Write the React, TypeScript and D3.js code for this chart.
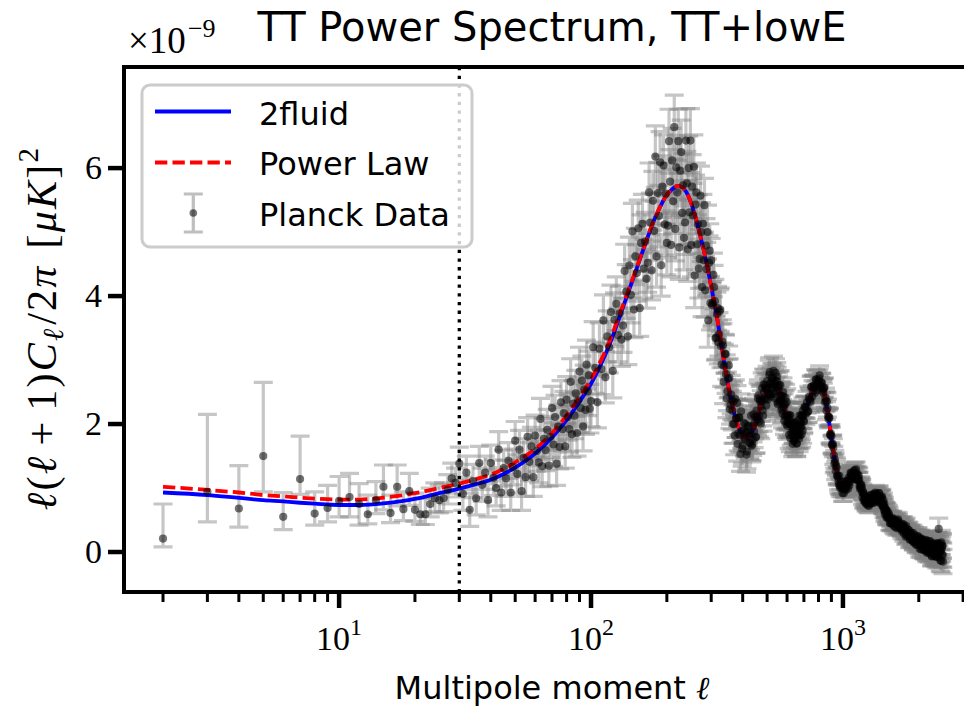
import React from "react";
import * as d3 from "d3";

// ---------------- data (units of 1e-9) ----------------
const LOW_ELL = [2, 3, 4, 5, 6, 7, 8, 9, 10, 11, 12, 13, 14, 15, 16, 17, 18, 19, 20, 21, 22, 23, 24, 25, 26, 27, 28, 29];
const LOW_D = [0.21, 0.94, 0.68, 1.5, 0.55, 1.14, 0.6, 0.69, 0.8, 0.86, 0.75, 0.59, 0.81, 1.02, 0.61, 1.02, 0.67, 0.95, 0.66, 0.59, 0.59, 0.75, 0.84, 0.81, 0.84, 0.97, 1.15, 1.08];
const LOW_ERR_PLUS = [0.54, 1.21, 0.67, 1.15, 0.38, 0.67, 0.34, 0.35, 0.38, 0.37, 0.32, 0.3, 0.29, 0.34, 0.28, 0.34, 0.27, 0.28, 0.26, 0.25, 0.25, 0.25, 0.24, 0.24, 0.24, 0.24, 0.24, 0.23];
const LOW_ERR_MINUS = [0.13, 0.47, 0.29, 0.56, 0.2, 0.24, 0.18, 0.22, 0.25, 0.31, 0.33, 0.15, 0.21, 0.36, 0.15, 0.3, 0.18, 0.22, 0.18, 0.16, 0.16, 0.2, 0.21, 0.2, 0.21, 0.22, 0.23, 0.22];

const HIGH_ELL = [
  30, 31, 32, 33, 34, 35, 36, 37, 38, 39, 40, 41, 42, 43, 44, 45, 46, 47, 48, 49,
  50, 51, 52, 53, 54, 55, 56, 57, 58, 59, 60, 61, 62, 63, 64, 65, 66, 67, 68, 69,
  70, 71, 72, 73, 74, 75, 76, 77, 78, 79, 80, 81, 82, 83, 84, 85, 86, 87, 88, 89,
  90, 91, 92, 93, 94, 95, 96, 97, 98, 99,
  100, 102, 104, 106, 108, 110, 112, 114, 116, 118, 120, 122, 124, 126, 128, 130, 132, 134, 136, 138,
  140, 142, 144, 146, 148, 150, 152, 154, 156, 158, 160, 162, 164, 166, 168, 170, 172, 174, 176, 178,
  180, 182, 184, 186, 188, 190, 192, 194, 196, 198, 200, 202, 204, 206, 208, 210, 212, 214, 216, 218,
  220, 222, 224, 226, 228, 230, 232, 234, 236, 238, 240, 242, 244, 246, 248, 250, 252, 254, 256, 258,
  260, 262, 264, 266, 268, 270, 272, 274, 276, 278, 280, 282, 284, 286, 288, 290, 292, 294, 296, 298,
  300, 304, 308, 312, 316, 320, 324, 328, 332, 336, 340, 344, 348, 352, 356, 360, 364, 368, 372, 376,
  380, 384, 388, 392, 396, 400, 404, 408, 412, 416, 420, 424, 428, 432, 436, 440, 444, 448, 452, 456,
  460, 464, 468, 472, 476, 480, 484, 488, 492, 496, 500, 504, 508, 512, 516, 520, 524, 528, 532, 536,
  540, 544, 548, 552, 556, 560, 564, 568, 572, 576, 580, 584, 588, 592, 596, 600, 604, 608, 612, 616,
  620, 624, 628, 632, 636, 640, 644, 648, 652, 656, 660, 664, 668, 672, 676, 680, 684, 688, 692, 696,
  700, 708, 716, 724, 732, 740, 748, 756, 764, 772, 780, 788, 796, 804, 812, 820, 828, 836, 844, 852,
  860, 868, 876, 884, 892, 900, 908, 916, 924, 932, 940, 948, 956, 964, 972, 980, 988, 996, 1004, 1012,
  1020, 1028, 1036, 1044, 1052, 1060, 1068, 1076, 1084, 1092, 1100, 1108, 1116, 1124, 1132, 1140, 1148, 1156, 1164, 1172,
  1180, 1188, 1196, 1204, 1212, 1220, 1228, 1236, 1244, 1252, 1260, 1268, 1276, 1284, 1292, 1300, 1308, 1316, 1324, 1332,
  1340, 1348, 1356, 1364, 1372, 1380, 1388, 1396, 1404, 1412, 1420, 1428, 1436, 1444, 1452, 1460, 1468, 1476, 1484, 1492,
  1500, 1512, 1524, 1536, 1548, 1560, 1572, 1584, 1596, 1608, 1620, 1632, 1644, 1656, 1668, 1680, 1692, 1704, 1716, 1728,
  1740, 1752, 1764, 1776, 1788, 1800, 1812, 1824, 1836, 1848, 1860, 1872, 1884, 1896, 1908, 1920, 1932, 1944, 1956, 1968,
  1980, 1992, 2004, 2016, 2028, 2040, 2052, 2064, 2076, 2088, 2100, 2112, 2124, 2136, 2148, 2160, 2172, 2184, 2196, 2208,
  2220, 2232, 2244, 2256, 2268, 2280, 2292, 2304, 2316, 2328, 2340, 2352, 2364, 2376, 2388, 2400, 2412, 2424, 2436, 2448,
  2460, 2472, 2484, 2496,
];
const HIGH_D = [
  1.38, 0.91, 1.24, 0.66, 1.11, 0.84, 1.39, 1.05, 1.24, 0.81, 1.39, 1.16, 1.0, 1.6, 0.93, 1.31, 1.15, 1.43, 0.93, 1.33,
  1.74, 1.22, 1.6, 0.95, 1.47, 1.17, 1.8, 1.41, 1.65, 1.17, 1.82, 1.58, 1.4, 2.08, 1.34, 1.77, 1.59, 1.91, 1.35, 1.8,
  2.25, 1.68, 2.11, 1.38, 1.96, 1.64, 2.34, 1.92, 2.17, 1.65, 2.38, 2.11, 1.92, 2.66, 1.84, 2.32, 2.13, 2.48, 1.86, 2.37,
  2.82, 2.25, 2.68, 1.96, 2.54, 2.22, 2.93, 2.51, 2.76, 2.24,
  2.36, 3.2, 2.88, 2.34, 3.18, 2.86, 3.62, 2.73, 3.37, 3.2, 3.75, 2.83, 3.63, 3.88, 3.39, 3.73, 3.32, 3.54, 4.39, 4.07,
  3.37, 4.48, 4.02, 5.01, 3.79, 4.62, 4.36, 5.06, 3.81, 4.83, 5.13, 4.43, 4.85, 4.27, 4.52, 5.62, 5.15, 4.4, 5.49, 5.02,
  6.18, 4.62, 5.61, 5.25, 6.09, 4.48, 5.71, 6.04, 5.12, 5.6, 4.83, 5.1, 6.42, 5.79, 4.8, 6.12, 5.48, 6.64, 5.05, 6.01,
  5.62, 6.42, 4.76, 5.96, 6.25, 5.3, 5.73, 4.91, 5.15, 6.43, 5.76, 4.73, 6.0, 5.31, 6.43, 4.8, 5.71, 5.26, 6.02, 4.32,
  5.43, 5.62, 4.81, 5.12, 4.43, 4.58, 5.57, 5.0, 4.14, 5.13, 4.56, 5.42, 4.09, 4.79, 4.42, 5.0, 3.62, 4.52, 4.71, 3.89,
  4.56, 3.89, 4.14, 3.34, 3.72, 3.28, 3.76, 3.22, 3.29, 2.66, 3.1, 2.78, 2.51, 2.92, 2.23, 2.46, 2.21, 2.35, 1.82, 2.09,
  2.33, 1.85, 2.1, 1.53, 1.89, 1.66, 2.02, 1.76, 1.87, 1.57, 1.97, 1.81, 1.7, 2.13, 1.68, 1.97, 1.88, 2.11, 1.8, 2.11,
  2.4, 2.12, 2.38, 2.01, 2.36, 2.21, 2.62, 2.4, 2.56, 2.29, 2.67, 2.56, 2.48, 2.81, 2.46, 2.66, 2.56, 2.71, 2.41, 2.62,
  2.8, 2.51, 2.67, 2.31, 2.52, 2.35, 2.61, 2.38, 2.44, 2.16, 2.43, 2.26, 2.12, 2.41, 2.0, 2.15, 2.03, 2.12, 1.83, 1.99,
  2.13, 1.87, 2.01, 1.69, 1.9, 1.75, 2.02, 1.83, 1.92, 1.7, 1.98, 1.88, 1.82, 2.13, 1.82, 2.02, 1.96, 2.13, 1.9, 2.13,
  2.04, 2.27, 2.26, 2.19, 2.42, 2.38, 2.58, 2.43, 2.59, 2.57, 2.7, 2.53, 2.68, 2.71, 2.61, 2.65, 2.52, 2.49, 2.57, 2.41,
  2.21, 2.25, 2.08, 2.1, 1.82, 1.81, 1.67, 1.63, 1.38, 1.4, 1.35, 1.19, 1.17, 1.05, 1.03, 1.11, 1.03, 0.92, 1.04, 0.98,
  1.1, 0.97, 1.08, 1.06, 1.16, 1.04, 1.17, 1.23, 1.16, 1.21, 1.15, 1.18, 1.28, 1.22, 1.13, 1.22, 1.13, 1.2, 1.03, 1.06,
  0.99, 1.02, 0.85, 0.92, 0.91, 0.81, 0.82, 0.75, 0.76, 0.85, 0.8, 0.72, 0.84, 0.78, 0.89, 0.77, 0.85, 0.83, 0.91, 0.77,
  0.88, 0.9, 0.84, 0.87, 0.81, 0.83, 0.92, 0.86, 0.77, 0.86, 0.79, 0.87, 0.72, 0.76, 0.71, 0.75, 0.59, 0.66, 0.66, 0.57,
  0.64, 0.54, 0.58, 0.45, 0.51, 0.44, 0.52, 0.45, 0.47, 0.39, 0.49, 0.45, 0.41, 0.51, 0.38, 0.43, 0.39, 0.43, 0.32, 0.37,
  0.43, 0.33, 0.38, 0.24, 0.32, 0.25, 0.35, 0.27, 0.29, 0.2, 0.3, 0.24, 0.19, 0.3, 0.15, 0.23, 0.18, 0.22, 0.11, 0.18,
  0.24, 0.14, 0.21, 0.05, 0.15, 0.08, 0.21, 0.1, 0.15, 0.03, 0.16, 0.1, 0.04, 0.19, 0.01, 0.1, 0.04, 0.11, -0.02, 0.07,
  0.17, 0.01, 0.11, -0.07, 0.05, -0.03, 0.13, 0.01, 0.07, -0.07, 0.1, 0.02, -0.03, 0.14, -0.06, 0.36, -0.02, 0.08, -0.13, 0.02,
  0.15, -0.04, 0.09, -0.15,
];
const HIGH_ERR = [
  0.26, 0.26, 0.26, 0.26, 0.26, 0.26, 0.26, 0.26, 0.26, 0.26, 0.28, 0.28, 0.28, 0.28, 0.28, 0.28, 0.28, 0.28, 0.28, 0.28,
  0.3, 0.3, 0.3, 0.3, 0.3, 0.3, 0.3, 0.3, 0.3, 0.3, 0.32, 0.32, 0.32, 0.32, 0.32, 0.32, 0.32, 0.32, 0.32, 0.32,
  0.34, 0.34, 0.34, 0.34, 0.34, 0.34, 0.34, 0.34, 0.34, 0.34, 0.36, 0.36, 0.36, 0.36, 0.36, 0.36, 0.36, 0.36, 0.36, 0.36,
  0.38, 0.38, 0.38, 0.38, 0.38, 0.38, 0.38, 0.38, 0.38, 0.38,
  0.4, 0.4, 0.4, 0.4, 0.4, 0.4, 0.4, 0.4, 0.4, 0.4, 0.42, 0.42, 0.42, 0.42, 0.42, 0.42, 0.42, 0.42, 0.42, 0.42,
  0.44, 0.44, 0.44, 0.44, 0.44, 0.44, 0.44, 0.44, 0.44, 0.44, 0.46, 0.46, 0.46, 0.46, 0.46, 0.46, 0.46, 0.46, 0.46, 0.46,
  0.48, 0.48, 0.48, 0.48, 0.48, 0.48, 0.48, 0.48, 0.48, 0.48, 0.5, 0.5, 0.5, 0.5, 0.5, 0.5, 0.5, 0.5, 0.5, 0.5,
  0.5, 0.5, 0.5, 0.5, 0.5, 0.5, 0.5, 0.5, 0.5, 0.5, 0.5, 0.5, 0.5, 0.5, 0.5, 0.5, 0.5, 0.5, 0.5, 0.5,
  0.46, 0.46, 0.46, 0.46, 0.46, 0.46, 0.46, 0.46, 0.46, 0.46, 0.42, 0.42, 0.42, 0.42, 0.42, 0.42, 0.42, 0.42, 0.42, 0.42,
  0.34, 0.34, 0.34, 0.34, 0.34, 0.34, 0.34, 0.34, 0.34, 0.34, 0.3, 0.3, 0.3, 0.3, 0.3, 0.3, 0.3, 0.3, 0.3, 0.3,
  0.27, 0.27, 0.27, 0.27, 0.27, 0.27, 0.27, 0.27, 0.27, 0.27, 0.25, 0.25, 0.25, 0.25, 0.25, 0.25, 0.25, 0.25, 0.25, 0.25,
  0.24, 0.24, 0.24, 0.24, 0.24, 0.24, 0.24, 0.24, 0.24, 0.24, 0.23, 0.23, 0.23, 0.23, 0.23, 0.23, 0.23, 0.23, 0.23, 0.23,
  0.22, 0.22, 0.22, 0.22, 0.22, 0.22, 0.22, 0.22, 0.22, 0.22, 0.21, 0.21, 0.21, 0.21, 0.21, 0.21, 0.21, 0.21, 0.21, 0.21,
  0.2, 0.2, 0.2, 0.2, 0.2, 0.2, 0.2, 0.2, 0.2, 0.2, 0.2, 0.2, 0.2, 0.2, 0.2, 0.2, 0.2, 0.2, 0.2, 0.2,
  0.17, 0.17, 0.17, 0.17, 0.17, 0.17, 0.17, 0.17, 0.17, 0.17, 0.15, 0.15, 0.15, 0.15, 0.15, 0.15, 0.15, 0.15, 0.15, 0.15,
  0.14, 0.14, 0.14, 0.14, 0.14, 0.14, 0.14, 0.14, 0.14, 0.14, 0.13, 0.13, 0.13, 0.13, 0.13, 0.13, 0.13, 0.13, 0.13, 0.13,
  0.12, 0.12, 0.12, 0.12, 0.12, 0.12, 0.12, 0.12, 0.12, 0.12, 0.12, 0.12, 0.12, 0.12, 0.12, 0.12, 0.12, 0.12, 0.12, 0.12,
  0.11, 0.11, 0.11, 0.11, 0.11, 0.11, 0.11, 0.11, 0.11, 0.11, 0.11, 0.11, 0.11, 0.11, 0.11, 0.11, 0.11, 0.11, 0.11, 0.11,
  0.11, 0.11, 0.11, 0.11, 0.11, 0.11, 0.11, 0.11, 0.11, 0.11, 0.11, 0.11, 0.11, 0.11, 0.11, 0.11, 0.11, 0.11, 0.11, 0.11,
  0.11, 0.11, 0.11, 0.11, 0.11, 0.11, 0.11, 0.11, 0.11, 0.11, 0.11, 0.11, 0.11, 0.11, 0.11, 0.11, 0.11, 0.11, 0.11, 0.11,
  0.12, 0.12, 0.12, 0.12, 0.12, 0.12, 0.12, 0.12, 0.12, 0.12, 0.12, 0.12, 0.12, 0.12, 0.12, 0.12, 0.12, 0.12, 0.12, 0.12,
  0.13, 0.13, 0.13, 0.13, 0.13, 0.13, 0.13, 0.13, 0.13, 0.13, 0.14, 0.14, 0.14, 0.14, 0.14, 0.14, 0.14, 0.14, 0.14, 0.14,
  0.15, 0.15, 0.15, 0.15, 0.15, 0.15, 0.15, 0.15, 0.15, 0.15, 0.17, 0.17, 0.17, 0.17, 0.17, 0.17, 0.17, 0.17, 0.17, 0.17,
  0.19, 0.19, 0.19, 0.19,
];

// second (interleaved) set of multipoles above l = 300
const HIGH2_ELL = [
  302, 306, 310, 314, 318, 322, 326, 330, 334, 338, 342, 346, 350, 354, 358, 362, 366, 370, 374, 378,
  382, 386, 390, 394, 398, 402, 406, 410, 414, 418, 422, 426, 430, 434, 438, 442, 446, 450, 454, 458,
  462, 466, 470, 474, 478, 482, 486, 490, 494, 498, 502, 506, 510, 514, 518, 522, 526, 530, 534, 538,
  542, 546, 550, 554, 558, 562, 566, 570, 574, 578, 582, 586, 590, 594, 598, 602, 606, 610, 614, 618,
  622, 626, 630, 634, 638, 642, 646, 650, 654, 658, 662, 666, 670, 674, 678, 682, 686, 690, 694, 698,
  704, 712, 720, 728, 736, 744, 752, 760, 768, 776, 784, 792, 800, 808, 816, 824, 832, 840, 848, 856,
  864, 872, 880, 888, 896, 904, 912, 920, 928, 936, 944, 952, 960, 968, 976, 984, 992, 1000, 1008, 1016,
  1024, 1032, 1040, 1048, 1056, 1064, 1072, 1080, 1088, 1096, 1104, 1112, 1120, 1128, 1136, 1144, 1152, 1160, 1168, 1176,
  1184, 1192, 1200, 1208, 1216, 1224, 1232, 1240, 1248, 1256, 1264, 1272, 1280, 1288, 1296, 1304, 1312, 1320, 1328, 1336,
  1344, 1352, 1360, 1368, 1376, 1384, 1392, 1400, 1408, 1416, 1424, 1432, 1440, 1448, 1456, 1464, 1472, 1480, 1488, 1496,
  1506, 1518, 1530, 1542, 1554, 1566, 1578, 1590, 1602, 1614, 1626, 1638, 1650, 1662, 1674, 1686, 1698, 1710, 1722, 1734,
  1746, 1758, 1770, 1782, 1794, 1806, 1818, 1830, 1842, 1854, 1866, 1878, 1890, 1902, 1914, 1926, 1938, 1950, 1962, 1974,
  1986, 1998, 2010, 2022, 2034, 2046, 2058, 2070, 2082, 2094, 2106, 2118, 2130, 2142, 2154, 2166, 2178, 2190, 2202, 2214,
  2226, 2238, 2250, 2262, 2274, 2286, 2298, 2310, 2322, 2334, 2346, 2358, 2370, 2382, 2394, 2406, 2418, 2430, 2442, 2454,
  2466, 2478, 2490,
];
const HIGH2_D = [
  3.86, 4.33, 3.92, 3.35, 3.81, 3.4, 3.79, 2.93, 3.23, 2.91, 3.09, 2.4, 2.71, 2.72, 2.3, 2.37, 2.0, 2.0, 2.39, 2.09,
  1.69, 2.1, 1.83, 2.2, 1.61, 1.9, 1.78, 2.0, 1.52, 1.87, 1.96, 1.71, 1.85, 1.66, 1.76, 2.15, 2.02, 1.79, 2.21, 2.07,
  2.45, 2.04, 2.35, 2.28, 2.56, 2.13, 2.5, 2.61, 2.39, 2.54, 2.38, 2.46, 2.77, 2.63, 2.43, 2.72, 2.58, 2.83, 2.47, 2.68,
  2.59, 2.74, 2.34, 2.58, 2.61, 2.37, 2.44, 2.22, 2.25, 2.5, 2.31, 2.05, 2.31, 2.13, 2.34, 1.97, 2.12, 2.01, 2.14, 1.78,
  1.99, 2.03, 1.82, 1.9, 1.73, 1.77, 2.03, 1.89, 1.69, 1.95, 1.82, 2.06, 1.77, 1.98, 1.93, 2.14, 1.84, 2.12, 2.21, 2.05,
  2.26, 2.16, 2.34, 2.2, 2.39, 2.35, 2.58, 2.51, 2.6, 2.49, 2.69, 2.64, 2.6, 2.76, 2.57, 2.64, 2.55, 2.56, 2.34, 2.36,
  2.35, 2.12, 2.11, 1.84, 1.85, 1.68, 1.69, 1.51, 1.45, 1.27, 1.32, 1.2, 1.1, 1.19, 1.0, 1.05, 0.99, 1.04, 0.92, 1.0,
  1.1, 1.01, 1.11, 0.99, 1.12, 1.09, 1.24, 1.18, 1.23, 1.14, 1.27, 1.22, 1.18, 1.29, 1.13, 1.19, 1.12, 1.13, 0.99, 1.02,
  1.05, 0.93, 0.95, 0.8, 0.86, 0.78, 0.87, 0.79, 0.82, 0.73, 0.84, 0.79, 0.76, 0.89, 0.76, 0.85, 0.82, 0.87, 0.78, 0.86,
  0.93, 0.85, 0.91, 0.79, 0.88, 0.81, 0.92, 0.84, 0.85, 0.76, 0.85, 0.78, 0.71, 0.81, 0.65, 0.7, 0.63, 0.66, 0.54, 0.59,
  0.53, 0.61, 0.54, 0.45, 0.52, 0.46, 0.53, 0.41, 0.47, 0.44, 0.5, 0.37, 0.46, 0.48, 0.4, 0.42, 0.36, 0.36, 0.44, 0.38,
  0.29, 0.39, 0.33, 0.41, 0.26, 0.32, 0.29, 0.34, 0.19, 0.28, 0.29, 0.21, 0.23, 0.16, 0.17, 0.27, 0.21, 0.12, 0.22, 0.16,
  0.25, 0.11, 0.19, 0.14, 0.21, 0.04, 0.17, 0.19, 0.08, 0.13, 0.03, 0.05, 0.18, 0.11, -0.01, 0.13, 0.06, 0.17, 0.0, 0.1,
  0.05, 0.14, -0.06, 0.08, 0.11, -0.01, 0.05, -0.06, -0.03, 0.13, 0.05, -0.08, 0.07, 0.0, 0.13, -0.08, 0.07, 0.0, 0.13, -0.14,
  0.05, 0.1, -0.05,
];
const HIGH2_ERR = [
  0.34, 0.34, 0.34, 0.34, 0.34, 0.34, 0.34, 0.34, 0.34, 0.34, 0.3, 0.3, 0.3, 0.3, 0.3, 0.3, 0.3, 0.3, 0.3, 0.3,
  0.27, 0.27, 0.27, 0.27, 0.27, 0.27, 0.27, 0.27, 0.27, 0.27, 0.25, 0.25, 0.25, 0.25, 0.25, 0.25, 0.25, 0.25, 0.25, 0.25,
  0.24, 0.24, 0.24, 0.24, 0.24, 0.24, 0.24, 0.24, 0.24, 0.24, 0.23, 0.23, 0.23, 0.23, 0.23, 0.23, 0.23, 0.23, 0.23, 0.23,
  0.22, 0.22, 0.22, 0.22, 0.22, 0.22, 0.22, 0.22, 0.22, 0.22, 0.21, 0.21, 0.21, 0.21, 0.21, 0.21, 0.21, 0.21, 0.21, 0.21,
  0.2, 0.2, 0.2, 0.2, 0.2, 0.2, 0.2, 0.2, 0.2, 0.2, 0.2, 0.2, 0.2, 0.2, 0.2, 0.2, 0.2, 0.2, 0.2, 0.2,
  0.17, 0.17, 0.17, 0.17, 0.17, 0.17, 0.17, 0.17, 0.17, 0.17, 0.15, 0.15, 0.15, 0.15, 0.15, 0.15, 0.15, 0.15, 0.15, 0.15,
  0.14, 0.14, 0.14, 0.14, 0.14, 0.14, 0.14, 0.14, 0.14, 0.14, 0.13, 0.13, 0.13, 0.13, 0.13, 0.13, 0.13, 0.13, 0.13, 0.13,
  0.12, 0.12, 0.12, 0.12, 0.12, 0.12, 0.12, 0.12, 0.12, 0.12, 0.12, 0.12, 0.12, 0.12, 0.12, 0.12, 0.12, 0.12, 0.12, 0.12,
  0.11, 0.11, 0.11, 0.11, 0.11, 0.11, 0.11, 0.11, 0.11, 0.11, 0.11, 0.11, 0.11, 0.11, 0.11, 0.11, 0.11, 0.11, 0.11, 0.11,
  0.11, 0.11, 0.11, 0.11, 0.11, 0.11, 0.11, 0.11, 0.11, 0.11, 0.11, 0.11, 0.11, 0.11, 0.11, 0.11, 0.11, 0.11, 0.11, 0.11,
  0.11, 0.11, 0.11, 0.11, 0.11, 0.11, 0.11, 0.11, 0.11, 0.11, 0.11, 0.11, 0.11, 0.11, 0.11, 0.11, 0.11, 0.11, 0.11, 0.11,
  0.12, 0.12, 0.12, 0.12, 0.12, 0.12, 0.12, 0.12, 0.12, 0.12, 0.12, 0.12, 0.12, 0.12, 0.12, 0.12, 0.12, 0.12, 0.12, 0.12,
  0.13, 0.13, 0.13, 0.13, 0.13, 0.13, 0.13, 0.13, 0.13, 0.13, 0.14, 0.14, 0.14, 0.14, 0.14, 0.14, 0.14, 0.14, 0.14, 0.14,
  0.15, 0.15, 0.15, 0.15, 0.15, 0.15, 0.15, 0.15, 0.15, 0.15, 0.17, 0.17, 0.17, 0.17, 0.17, 0.17, 0.17, 0.17, 0.17, 0.17,
  0.19, 0.19, 0.19,
];

const MODEL_ELL = [
  2, 3, 4, 5, 6, 7, 8, 10, 12, 15, 18, 20, 25, 30, 35, 40, 45, 50, 60, 70,
  80, 90, 100, 110, 120, 130, 140, 150, 160, 170, 180, 190, 200, 210, 220, 230, 240, 250, 260, 270,
  280, 290, 300, 310, 320, 330, 340, 350, 360, 370, 380, 390, 400, 410, 420, 430, 440, 460, 480, 500,
  520, 540, 560, 580, 600, 620, 640, 660, 680, 700, 720, 740, 760, 780, 800, 820, 840, 860, 880, 900,
  920, 940, 960, 980, 1000, 1020, 1040, 1060, 1080, 1100, 1120, 1140, 1160, 1180, 1200, 1240, 1280, 1320, 1360, 1400,
  1440, 1480, 1520, 1560, 1600, 1650, 1700, 1750, 1800, 1850, 1900, 1950, 2000, 2100, 2200, 2300, 2400, 2500,
];
const TWOFLUID_D = [
  0.93, 0.89, 0.845, 0.81, 0.79, 0.77, 0.755, 0.735, 0.735, 0.76, 0.8, 0.83, 0.92, 0.99, 1.06, 1.13, 1.22, 1.32, 1.54, 1.79,
  2.06, 2.35, 2.63, 2.95, 3.3, 3.68, 4.04, 4.37, 4.69, 4.98, 5.23, 5.43, 5.58, 5.67, 5.72, 5.7, 5.61, 5.45, 5.23, 4.98,
  4.72, 4.44, 4.15, 3.85, 3.55, 3.22, 2.89, 2.62, 2.39, 2.17, 2.01, 1.9, 1.83, 1.79, 1.8, 1.84, 1.91, 2.15, 2.38, 2.54,
  2.62, 2.6, 2.48, 2.3, 2.11, 1.95, 1.87, 1.86, 1.96, 2.11, 2.27, 2.41, 2.53, 2.61, 2.65, 2.64, 2.52, 2.3, 2.05, 1.78,
  1.52, 1.3, 1.14, 1.04, 1.0, 1.01, 1.06, 1.13, 1.19, 1.22, 1.22, 1.18, 1.1, 1.0, 0.91, 0.8, 0.8, 0.84, 0.87, 0.85,
  0.75, 0.63, 0.54, 0.48, 0.45, 0.44, 0.4, 0.35, 0.3, 0.26, 0.22, 0.19, 0.16, 0.1, 0.06, 0.03, 0.02, 0.01,
];
const POWERLAW_D = [
  1.02, 0.97, 0.93, 0.89, 0.87, 0.85, 0.835, 0.82, 0.82, 0.85, 0.89, 0.92, 1.0, 1.07, 1.14, 1.21, 1.3, 1.4, 1.61, 1.86,
  2.13, 2.42, 2.7, 3.01, 3.35, 3.72, 4.07, 4.39, 4.7, 4.99, 5.23, 5.43, 5.58, 5.67, 5.72, 5.7, 5.61, 5.45, 5.23, 4.98,
  4.72, 4.44, 4.15, 3.85, 3.55, 3.22, 2.89, 2.62, 2.39, 2.17, 2.01, 1.9, 1.83, 1.79, 1.8, 1.84, 1.91, 2.15, 2.38, 2.54,
  2.62, 2.6, 2.48, 2.3, 2.11, 1.95, 1.87, 1.86, 1.96, 2.11, 2.27, 2.41, 2.53, 2.61, 2.65, 2.64, 2.52, 2.3, 2.05, 1.78,
  1.52, 1.3, 1.14, 1.04, 1.0, 1.01, 1.06, 1.13, 1.19, 1.22, 1.22, 1.18, 1.1, 1.0, 0.91, 0.8, 0.8, 0.84, 0.87, 0.85,
  0.75, 0.63, 0.54, 0.48, 0.45, 0.44, 0.4, 0.35, 0.3, 0.26, 0.22, 0.19, 0.16, 0.1, 0.06, 0.03, 0.02, 0.01,
];

const X_MAJOR = [10, 100, 1000];
const X_MAJOR_EXP = ["1", "2", "3"];
const Y_TICKS = [0, 2, 4, 6];
const LCUT = 30;

const SERIF = "'Liberation Serif', 'DejaVu Serif', serif";
const SANS = "'DejaVu Sans', sans-serif";
const ELL = "\u2113";

type Pt = { l: number; d: number; lo: number; hi: number };

export default function App() {
  const W = 964;
  const H = 709;
  const L = 124, R = 980, T = 67, B = 592;
  const x = d3.scaleLog().domain([1.4, 3500]).range([L, R]);
  const y = d3.scaleLinear().domain([-0.625, 7.58]).range([B, T]);

  const line = d3
    .line<number>()
    .x((_, i) => x(MODEL_ELL[i]))
    .y((d) => y(d))
    .curve(d3.curveMonotoneX);

  const sym = (ells: number[], ds: number[], es: number[]): Pt[] =>
    ells
      .map((l, i) => ({ l, d: ds[i], e: es[i] }))
      .filter((p) => p.d !== undefined && p.e !== undefined)
      .map((p) => ({ l: p.l, d: p.d, lo: p.d - p.e, hi: p.d + p.e }));

  const pts: Pt[] = [
    ...LOW_ELL.map((l, i) => ({ l, d: LOW_D[i], lo: LOW_D[i] - LOW_ERR_MINUS[i], hi: LOW_D[i] + LOW_ERR_PLUS[i] })),
    ...sym(HIGH_ELL, HIGH_D, HIGH_ERR),
    ...sym(HIGH2_ELL, HIGH2_D, HIGH2_ERR),
  ].sort((a, b) => a.l - b.l);

  const cap = 9.5;
  const errPath = (p: Pt) => {
    const px = x(p.l);
    const y1 = y(p.hi);
    const y2 = y(p.lo);
    return `M${px},${y1}V${y2}M${px - cap},${y1}H${px + cap}M${px - cap},${y2}H${px + cap}`;
  };

  const allTicks = x.ticks();
  const isMajor = (v: number) => Math.abs(Math.log10(v) - Math.round(Math.log10(v))) < 1e-9;
  const minor = allTicks.filter((v) => !isMajor(v) && v >= 1.4 && v <= 3500);

  return (
    <svg width={W} height={H} style={{ position: "absolute", left: 0, top: 0, background: "#fff" }}>
      <rect x={0} y={0} width={W} height={H} fill="#fff" />
      <defs>
        <clipPath id="plotclip">
          <rect x={L} y={T} width={R - L} height={B - T} />
        </clipPath>
      </defs>

      <g clipPath="url(#plotclip)">
        {pts.map((p, i) => (
          <path key={"e" + i} d={errPath(p)} fill="none" stroke="#808080" strokeOpacity={0.45} strokeWidth={3.2} />
        ))}
        <path d={line(TWOFLUID_D) || ""} fill="none" stroke="#0000ff" strokeWidth={3.8} />
        <path d={line(POWERLAW_D) || ""} fill="none" stroke="#ff0000" strokeWidth={3.8} strokeDasharray="12.3 5.2" />
        {pts.map((p, i) => (
          <circle key={"c" + i} cx={x(p.l)} cy={y(p.d)} r={4.1} fill="#000" fillOpacity={0.55} />
        ))}
        <line x1={x(LCUT)} x2={x(LCUT)} y1={T} y2={B} stroke="#000" strokeWidth={3.3} strokeDasharray="3.3 5.4" />
      </g>

      {/* legend */}
      <g>
        <rect x={142} y={85} width={330} height={162} rx={8} fill="#fff" fillOpacity={0.8} stroke="#cccccc" strokeWidth={3} />
        <line x1={155} x2={231} y1={111.5} y2={111.5} stroke="#0000ff" strokeWidth={3.8} />
        <text x={259} y={125} fontFamily={SANS} fontSize={32}>2fluid</text>
        <line x1={155} x2={231} y1={162.5} y2={162.5} stroke="#ff0000" strokeWidth={3.8} strokeDasharray="12.3 5.2" />
        <text x={259} y={175} fontFamily={SANS} fontSize={32}>Power Law</text>
        <path d={`M193.3,194V232M183.8,194H202.8M183.8,232H202.8`} fill="none" stroke="#808080" strokeOpacity={0.5} strokeWidth={3.2} />
        <circle cx={193.3} cy={213} r={3.8} fill="#000" fillOpacity={0.55} />
        <text x={259} y={226} fontFamily={SANS} fontSize={32}>Planck Data</text>
      </g>

      {/* frame */}
      <rect x={L} y={T} width={R - L} height={B - T} fill="none" stroke="#000" strokeWidth={4} />

      {/* x ticks */}
      {minor.map((v) => (
        <line key={"mn" + v} x1={x(v)} x2={x(v)} y1={B} y2={B + 10} stroke="#000" strokeWidth={3} />
      ))}
      {X_MAJOR.map((v, i) => (
        <g key={"mj" + v}>
          <line x1={x(v)} x2={x(v)} y1={B} y2={B + 16} stroke="#000" strokeWidth={4.5} />
          <text x={x(v)} y={650} textAnchor="middle" fontFamily={SERIF} fontSize={34}>
            10<tspan fontSize={24} dy={-15}>{X_MAJOR_EXP[i]}</tspan>
          </text>
        </g>
      ))}

      {/* y ticks */}
      {Y_TICKS.map((v) => (
        <g key={"yt" + v}>
          <line x1={L} x2={L - 16} y1={y(v)} y2={y(v)} stroke="#000" strokeWidth={4.5} />
          <text x={102} y={y(v) + 11} textAnchor="end" fontFamily={SERIF} fontSize={34}>{String(v)}</text>
        </g>
      ))}

      {/* offset text */}
      <text x={128} y={53} fontFamily={SERIF} fontSize={37}>
        {"\u00d710"}<tspan fontSize={26} dy={-16} dx={2}>{"\u22129"}</tspan>
      </text>

      {/* title */}
      <text x={552} y={41} textAnchor="middle" fontFamily={SANS} fontSize={40}>TT Power Spectrum, TT+lowE</text>

      {/* x label */}
      <text x={552} y={699} textAnchor="middle" fontFamily={SANS} fontSize={32}>
        {"Multipole moment "}<tspan fontFamily={SERIF} fontStyle="italic">{ELL}</tspan>
      </text>

      {/* y label */}
      <text transform="translate(56,328) rotate(-90)" textAnchor="middle" fontFamily={SERIF} fontSize={42} letterSpacing={2.2}>
        <tspan fontStyle="italic">{ELL}</tspan>
        <tspan>(</tspan>
        <tspan fontStyle="italic">{ELL}</tspan>
        <tspan dx={9}>+</tspan>
        <tspan dx={9}>1)</tspan>
        <tspan fontStyle="italic">C</tspan>
        <tspan fontStyle="italic" fontSize={29} dy={7}>{ELL}</tspan>
        <tspan dy={-7} dx={2}>/2</tspan>
        <tspan fontStyle="italic">{"\u03c0"}</tspan>
        <tspan dx={16}>[</tspan>
        <tspan fontStyle="italic">{"\u03bcK"}</tspan>
        <tspan>]</tspan>
        <tspan fontSize={29} dy={-18}>2</tspan>
      </text>
    </svg>
  );
}
